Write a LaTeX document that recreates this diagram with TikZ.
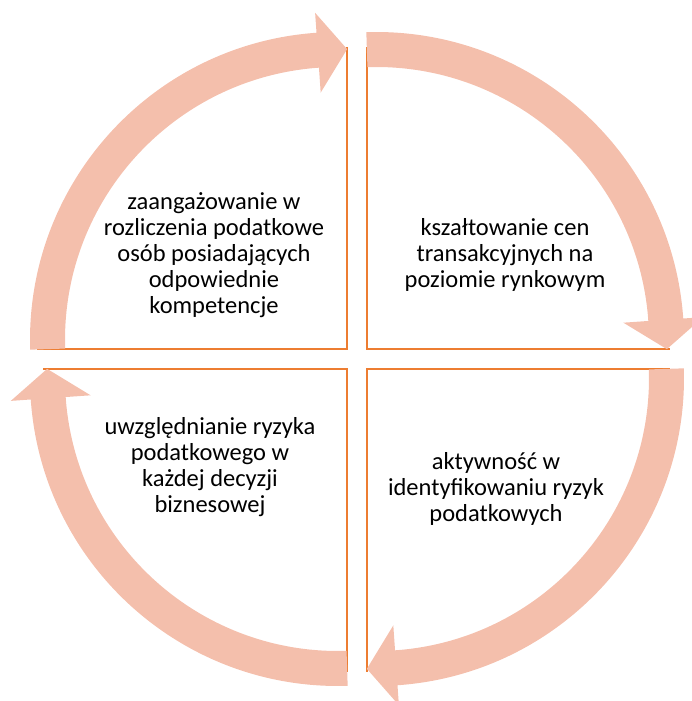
\documentclass[tikz,border=0pt]{standalone}
\usepackage{fontspec}
\setmainfont{Carlito}
\definecolor{arrowfill}{RGB}{244,191,172}
\definecolor{edgeorange}{RGB}{237,125,49}
\tikzset{
  cyclearrow/.style={fill=arrowfill, draw=none},
  quadline/.style={draw=edgeorange, line width=2.6pt},
  steptext/.style={align=center, text=black, font=\fontsize{24.5}{26}\selectfont}
}
\begin{document}
\begin{tikzpicture}[x=1pt,y=1pt]
      \useasboundingbox (-357,-342) rectangle (335,359);
      % quadrant borders
      \draw[quadline] (-10,312) -- (-10,10) -- (-320,10);
      \draw[quadline] (10,312) -- (10,10) -- (313,10);
      \draw[quadline] (313,-10) -- (10,-10) -- (10,-313);
      \draw[quadline] (-10,-313) -- (-10,-10) -- (-314,-10);
      % curved arrows, one per quadrant
      \foreach \s/\dx/\dy in {180/-19/19, 90/19/19, 0/19/-19, -90/-19/-19} {
        \pgfmathsetmacro{\a}{\s+1.8}
        \pgfmathsetmacro{\b}{\s-91.8}
        \pgfmathsetmacro{\c}{\b+5.8}
        \begin{scope}[shift={(\dx,\dy)}]
          \fill[cyclearrow] (\a:308pt) arc[start angle=\a, end angle=\c, radius=308pt]
            -- (\c:328pt) -- (\b:291pt) -- (\c:248pt)
            -- (\c:273pt) arc[start angle=\c, end angle=\a, radius=273pt] -- cycle;
        \end{scope}
      }
      % texts
      \node[steptext] (kompetencje) at (-143,104) {zaangażowanie w\\rozliczenia podatkowe\\osób posiadających\\odpowiednie\\kompetencje};
      \node[steptext] (ceny) at (148,104) {kszałtowanie cen\\transakcyjnych na\\poziomie rynkowym};
      \node[steptext] (ryzyka) at (139,-130) {aktywność w\\identyfikowaniu ryzyk\\podatkowych};
      \node[steptext] (decyzje) at (-147,-108) {uwzględnianie ryzyka\\podatkowego w\\każdej decyzji\\biznesowej};
\end{tikzpicture}
\end{document}
